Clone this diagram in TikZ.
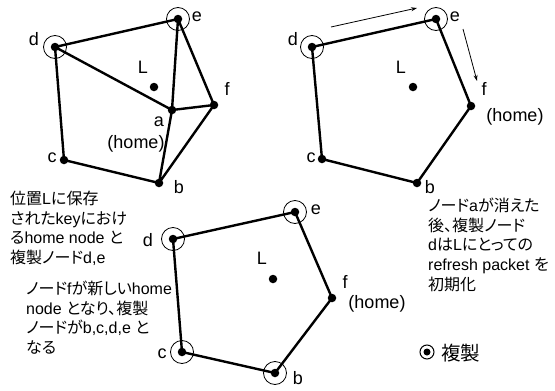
\documentclass[tikz,border=0pt]{standalone}
\usepackage{fontspec}
\setmainfont{Liberation Sans}
\newfontfamily\jp[RawFeature=+palt]{Noto Sans CJK JP}
\usetikzlibrary{arrows.meta}
\begin{document}
\begin{tikzpicture}[x=1pt,y=-1pt,
  dot/.style={circle,fill=black,inner sep=0,minimum size=8.5pt},
  rep/.style={circle,draw,line width=0.8pt,minimum size=23pt,inner sep=0},
  edge/.style={line width=2.4pt,line join=round},
  lab/.style={inner sep=0,font=\fontsize{18}{20}\selectfont},
  txt/.style={inner sep=0,align=left,anchor=north west,font=\fontsize{16}{19.6}\selectfont},
  arr/.style={line width=0.8pt,-{Stealth[length=6pt,width=4pt]}}
]
\useasboundingbox (0,0) rectangle (555,391);
% ---------- diagram 1 ----------
\node[dot] (d1) at (55,47) {};
\node[dot] (e1) at (178,19) {};
\node[dot] (a1) at (172,110) {};
\node[dot] (f1) at (214,105) {};
\node[dot] (c1) at (64,160) {};
\node[dot] (b1) at (159,183) {};
\node[dot] (L1) at (154,87) {};
\node[rep] (d1r) at (d1) {};
\node[rep] (e1r) at (e1) {};
\draw[edge] (d1.center) -- (e1.center) (d1.center) -- (a1.center) (d1.center) -- (c1.center)
  (e1.center) -- (a1.center) (e1.center) -- (f1.center) (a1.center) -- (f1.center)
  (a1.center) -- (b1.center) (f1.center) -- (b1.center) (c1.center) -- (b1.center);
\node[lab] (d1l) at (34,39) {d};
\node[lab] (e1l) at (197,17) {e};
\node[lab] (L1l) at (143,67) {L};
\node[lab] (a1l) at (159,122) {a};
\node[lab] (h1l) at (136,144) {(home)};
\node[lab] (f1l) at (227,89) {f};
\node[lab] (c1l) at (52,158) {c};
\node[lab] (b1l) at (179,187) {b};
% ---------- diagram 2 ----------
\node[dot] (d2) at (312,47) {};
\node[dot] (e2) at (436,19) {};
\node[dot] (f2) at (471,106) {};
\node[dot] (c2) at (322,159) {};
\node[dot] (b2) at (417,183) {};
\node[dot] (L2) at (413,87) {};
\node[rep] (d2r) at (d2) {};
\node[rep] (e2r) at (e2) {};
\draw[edge] (d2.center) -- (e2.center) -- (f2.center) -- (b2.center) -- (c2.center) -- (d2.center);
\node[lab] (d2l) at (293,39) {d};
\node[lab] (e2l) at (455,17) {e};
\node[lab] (L2l) at (401,67) {L};
\node[lab] (f2l) at (484,89) {f};
\node[lab] (h2l) at (515,117) {(home)};
\node[lab] (c2l) at (311,158) {c};
\node[lab] (b2l) at (430,187) {b};
\coordinate (p1s) at (331,27);
\coordinate (p1e) at (417,8);
\coordinate (p2s) at (463,29);
\coordinate (p2e) at (477,81);
\draw[arr] (p1s) -- (p1e);
\draw[arr] (p2s) -- (p2e);
% ---------- diagram 3 ----------
\node[dot] (d3) at (173,239) {};
\node[dot] (e3) at (295,212) {};
\node[dot] (f3) at (332,298) {};
\node[dot] (b3) at (275,373) {};
\node[dot] (c3) at (182,352) {};
\node[dot] (L3) at (273,279) {};
\node[rep] (d3r) at (d3) {};
\node[rep] (e3r) at (e3) {};
\node[rep] (b3r) at (b3) {};
\node[rep] (c3r) at (c3) {};
\draw[edge] (d3.center) -- (e3.center) -- (f3.center) -- (b3.center) -- (c3.center) -- (d3.center);
\node[lab] (d3l) at (148,240) {d};
\node[lab] (e3l) at (316,210) {e};
\node[lab] (L3l) at (262,258) {L};
\node[lab] (f3l) at (345,282) {f};
\node[lab] (h3l) at (377,304) {(home)};
\node[lab] (c3l) at (162,354) {c};
\node[lab] (b3l) at (298,378) {b};
% ---------- texts ----------
\node[txt] (t1) at (10,191) {{\jp 位置}L{\jp に保存}\\{\jp された}key{\jp におけ}\\{\jp る}home node {\jp と}\\{\jp 複製ノード}d,e};
\node[txt] (t2) at (26,281) {{\jp ノード}f{\jp が新しい}home\\node {\jp となり、複製}\\{\jp ノードが}b,c,d,e {\jp と}\\{\jp なる}};
\node[txt] (t3) at (428,198) {{\jp ノード}a{\jp が消えた}\\{\jp 後、複製ノード}\\d{\jp は}L{\jp にとっての}\\refresh packet {\jp を}\\{\jp 初期化}};
% ---------- legend ----------
\node[dot,minimum size=7pt] (lg) at (427,352) {};
\node[circle,draw,line width=1pt,minimum size=14pt,inner sep=0] (lgr) at (lg) {};
\node[anchor=west,inner sep=0,font=\fontsize{19.5}{22}\selectfont\jp] (lgt) at (441,353) {複製};
\end{tikzpicture}
\end{document}
